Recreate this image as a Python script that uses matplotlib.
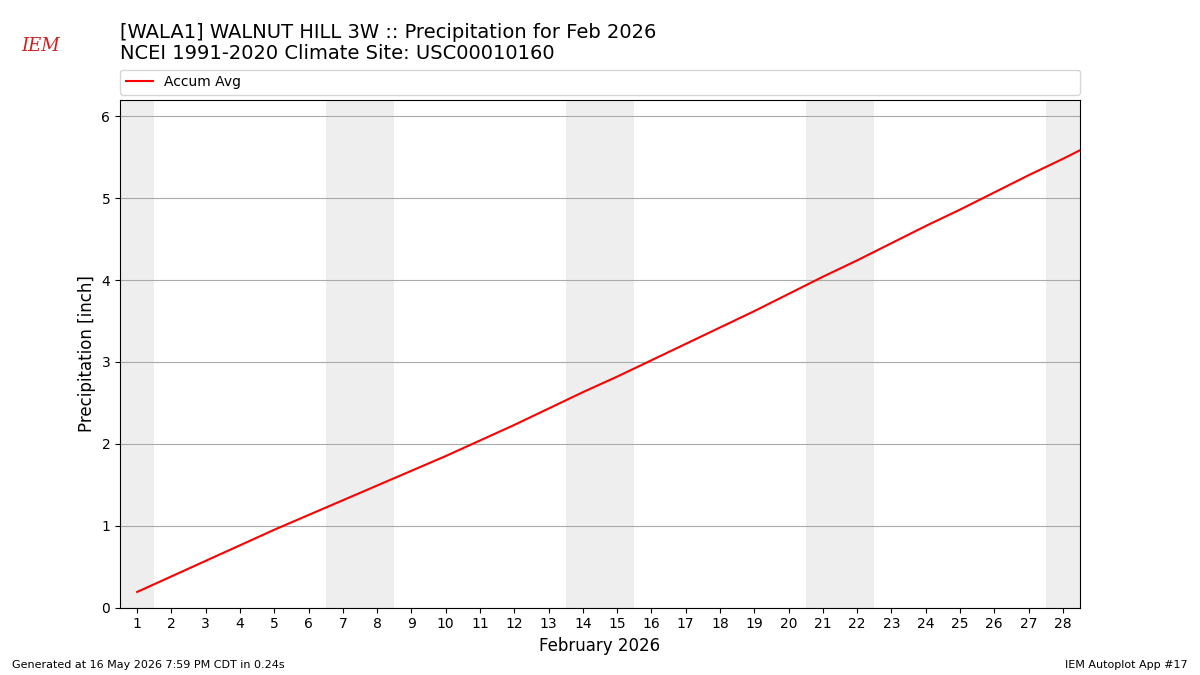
import matplotlib
matplotlib.use("Agg")
import matplotlib.pyplot as plt

# day of month and accumulated average precipitation (inch)
days = list(range(1, 30))
accum = [0.19, 0.38, 0.57, 0.76, 0.95, 1.13, 1.31, 1.49, 1.67, 1.85, 2.04, 2.23, 2.43, 2.63,
         2.82, 3.02, 3.22, 3.42, 3.62, 3.83, 4.04, 4.24, 4.45, 4.66, 4.86, 5.07, 5.28, 5.48, 5.69]
weekend_days = [1, 7, 8, 14, 15, 21, 22, 28]

fig = plt.figure(figsize=(12, 6.75), dpi=100)
ax = fig.add_axes([0.1, 0.1, 0.8, 0.752])

for d in weekend_days:
    ax.axvspan(d - 0.5, d + 0.5, color="#eeeeee", lw=0, zorder=0)

ax.plot(days, accum, color="red", lw=1.5, label="Accum Avg")
ax.set_xlim(0.5, 28.5)
ax.set_ylim(0, 6.2)
ax.set_xticks(range(1, 29))
ax.set_yticks(range(0, 7))
ax.grid(axis="y", color="#aaaaaa")
ax.set_axisbelow(True)
ax.set_xlabel("February 2026", fontsize=12)
ax.set_ylabel("Precipitation [inch]", fontsize=12)

ax.legend(loc="lower left", bbox_to_anchor=(0, 1.01, 1, 0.05), mode="expand",
          fontsize=10, frameon=True, borderaxespad=0)

fig.text(0.1, 0.944, "[WALA1] WALNUT HILL 3W :: Precipitation for Feb 2026", fontsize=14)
fig.text(0.1, 0.913, "NCEI 1991-2020 Climate Site: USC00010160", fontsize=14)
fig.text(0.018, 0.925, "IEM", fontsize=13, color="#cc2222", style="italic", family="serif")
fig.text(0.01, 0.01, "Generated at 16 May 2026 7:59 PM CDT in 0.24s", fontsize=8)
fig.text(0.99, 0.01, "IEM Autoplot App #17", fontsize=8, ha="right")

fig.savefig("out.png")
